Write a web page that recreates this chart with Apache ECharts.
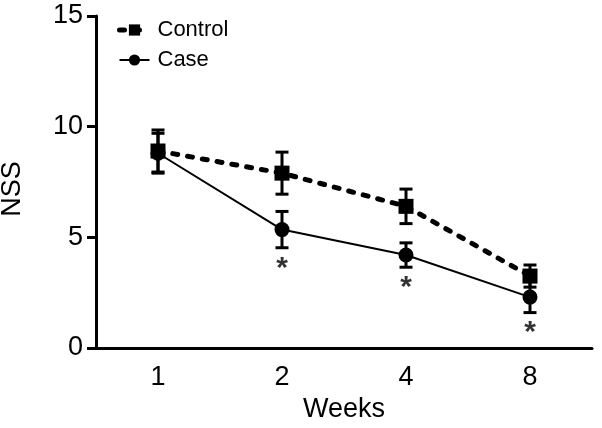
<!DOCTYPE html>
<html>
<head>
<meta charset="utf-8">
<script src="https://cdn.jsdelivr.net/npm/echarts@6/dist/echarts.min.js"></script>
<style>
html,body{margin:0;padding:0;background:#fff;}
#chart{width:602px;height:428px;}
</style>
</head>
<body>
<div id="chart"></div>
<script>
const weeks = ['1', '2', '4', '8'];
const controlMean = [8.9, 7.9, 6.4, 3.25];
const controlErr = [0.95, 0.95, 0.78, 0.5];
const caseMean = [8.8, 5.35, 4.2, 2.3];
const caseErr = [0.9, 0.82, 0.55, 0.7];
const significant = [false, true, true, true];

const FONT = '"Liberation Sans", Arial, Helvetica, sans-serif';

function errData(mean, err) {
  return mean.map((m, i) => [i, m - err[i], m + err[i]]);
}

function errRender(params, api) {
  const x = api.value(0);
  const lo = api.coord([x, api.value(1)]);
  const hi = api.coord([x, api.value(2)]);
  const cap = 6.5;
  const style = { stroke: '#000', lineWidth: 3, fill: null };
  return {
    type: 'group',
    children: [
      { type: 'line', shape: { x1: lo[0], y1: lo[1], x2: hi[0], y2: hi[1] }, style },
      { type: 'line', shape: { x1: lo[0] - cap, y1: lo[1], x2: lo[0] + cap, y2: lo[1] }, style },
      { type: 'line', shape: { x1: hi[0] - cap, y1: hi[1], x2: hi[0] + cap, y2: hi[1] }, style }
    ]
  };
}

const starData = [];
significant.forEach((s, i) => { if (s) starData.push([i, caseMean[i] - caseErr[i]]); });

const chart = echarts.init(document.getElementById('chart'));
chart.setOption({
  animation: false,
  backgroundColor: '#fff',
  textStyle: { fontFamily: FONT, color: '#000' },
  grid: { left: 96, right: 10, top: 16, bottom: 80, containLabel: false, outerBoundsMode: 'none' },
  legend: {
    data: [
      { name: 'Control', lineStyle: { width: 5, type: [5, 10], cap: 'round' } },
      { name: 'Case', lineStyle: { width: 2 } }
    ],
    orient: 'vertical',
    left: 112,
    top: 14,
    itemWidth: 30,
    itemHeight: 14,
    itemGap: 8,
    textStyle: { fontSize: 22, color: '#000', fontFamily: FONT, padding: [0, 0, 0, 3] }
  },
  xAxis: {
    type: 'category',
    data: weeks,
    boundaryGap: true,
    name: 'Weeks',
    nameLocation: 'middle',
    nameGap: 48,
    nameTextStyle: { fontSize: 27, color: '#000', fontFamily: FONT },
    axisLine: { lineStyle: { color: '#000', width: 3 } },
    axisTick: { alignWithLabel: true, length: 8, lineStyle: { color: '#000', width: 3 } },
    axisLabel: { fontSize: 27, color: '#000', margin: 16, fontFamily: FONT },
    splitLine: { show: false }
  },
  yAxis: {
    type: 'value',
    min: 0,
    max: 15,
    interval: 5,
    name: 'NSS',
    nameLocation: 'middle',
    nameGap: 70,
    nameRotate: 90,
    nameTextStyle: { fontSize: 27, color: '#000', fontFamily: FONT, padding: [0, 14, 0, 0] },
    axisLine: { show: true, lineStyle: { color: '#000', width: 3 } },
    axisTick: { show: true, length: 9, lineStyle: { color: '#000', width: 3 } },
    axisLabel: { fontSize: 27, color: '#000', margin: 13, fontFamily: FONT },
    splitLine: { show: false }
  },
  series: [
    {
      name: 'Control',
      type: 'line',
      data: controlMean,
      symbol: 'rect',
      symbolSize: 15,
      itemStyle: { color: '#000' },
      lineStyle: { color: '#000', width: 5, type: [5, 10], cap: 'round' },
      z: 2
    },
    {
      name: 'ControlErr',
      type: 'custom',
      data: errData(controlMean, controlErr),
      renderItem: errRender,
      z: 2
    },
    {
      name: 'Case',
      type: 'line',
      data: caseMean,
      symbol: 'circle',
      symbolSize: 15,
      itemStyle: { color: '#000' },
      lineStyle: { color: '#000', width: 2 },
      z: 3
    },
    {
      name: 'CaseErr',
      type: 'custom',
      data: errData(caseMean, caseErr),
      renderItem: errRender,
      z: 3
    },
    {
      name: 'Stars',
      type: 'scatter',
      data: starData,
      symbolSize: 1,
      itemStyle: { color: 'rgba(0,0,0,0)' },
      label: {
        show: true,
        formatter: '*',
        position: 'bottom',
        distance: 5,
        fontSize: 30,
        fontWeight: 'bold',
        color: '#000',
        fontFamily: FONT
      },
      z: 4
    }
  ]
});
</script>
</body>
</html>
